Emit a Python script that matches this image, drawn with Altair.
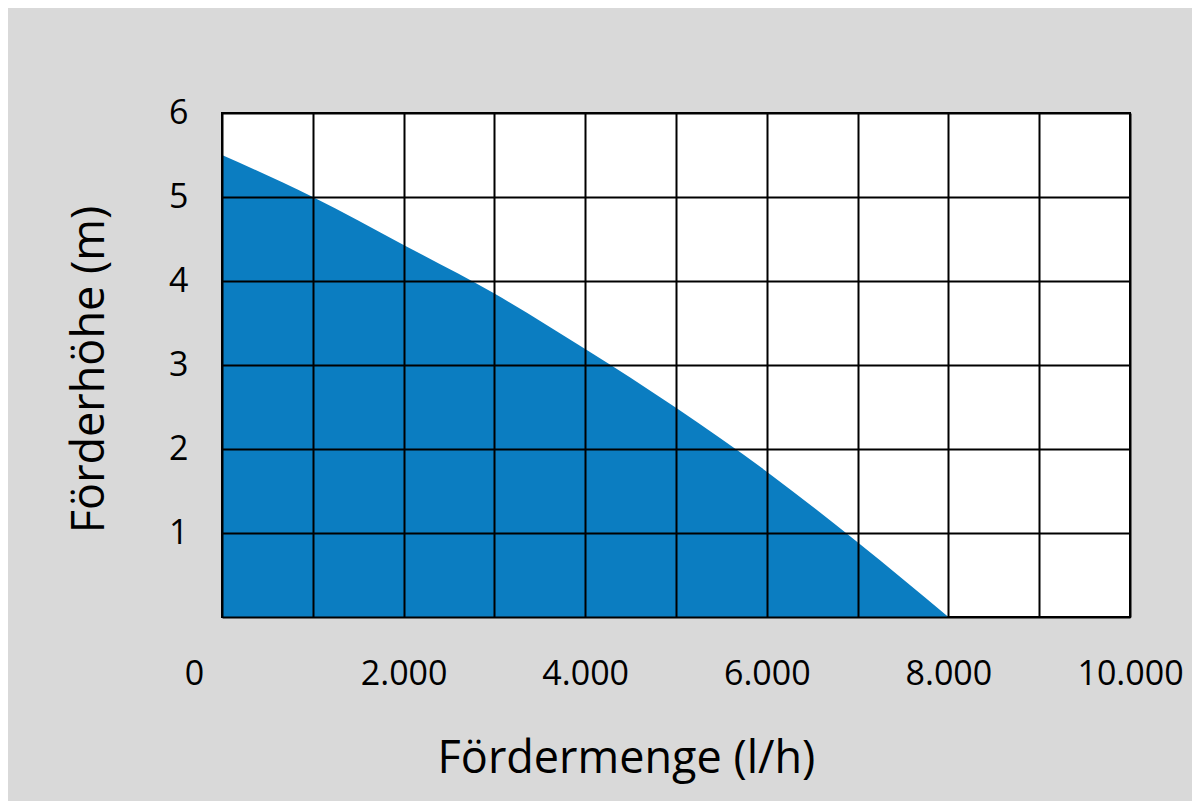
import altair as alt
import pandas as pd

# Pump curve: flow rate (l/h) vs delivery head (m)
flow = [0, 1000, 2000, 3000, 4000, 5000, 6000, 7000, 8000]
head = [5.5, 5.0, 4.43, 3.85, 3.19, 2.49, 1.73, 0.89, 0.0]

x_ticks = [0, 1000, 2000, 3000, 4000, 5000, 6000, 7000, 8000, 9000, 10000]
y_ticks = [0, 1, 2, 3, 4, 5, 6]

df = pd.DataFrame({"flow": flow, "head": head})

FONT = "Open Sans"

x_label_expr = (
    "datum.value % 2000 != 0 ? '' : "
    "replace(format(datum.value, ','), ',', '.')"
)

chart = (
    alt.Chart(df)
    .mark_area(color="#0b7dc1", interpolate="monotone")
    .encode(
        x=alt.X(
            "flow:Q",
            scale=alt.Scale(domain=[0, 10000], nice=False, zero=True),
            axis=alt.Axis(
                values=x_ticks,
                grid=True,
                gridColor="black",
                gridWidth=2,
                gridOpacity=1,
                ticks=False,
                domain=False,
                labelExpr=x_label_expr,
                labelFont=FONT,
                labelFontSize=34,
                labelColor="black",
                labelPadding=40,
                labelOffset={"condition": {"test": "datum.value == 0", "value": -28}, "value": 0},
                labelFlush=False,
                labelOverlap=False,
                title="Fördermenge (l/h)",
                titleFont=FONT,
                titleFontSize=45,
                titleFontWeight="normal",
                titleColor="black",
                titleX=404,
                titleY=155,
                titleAlign="center",
                titleBaseline="alphabetic",
                zindex=1,
            ),
        ),
        y=alt.Y(
            "head:Q",
            scale=alt.Scale(domain=[0, 6], nice=False, zero=True),
            axis=alt.Axis(
                values=y_ticks,
                grid=True,
                gridColor="black",
                gridWidth=2,
                gridOpacity=1,
                ticks=False,
                domain=False,
                labelExpr="datum.value == 0 ? '' : datum.label",
                labelFont=FONT,
                labelFontSize=34,
                labelColor="black",
                labelPadding=34,
                labelFlush=False,
                labelOverlap=False,
                title="Förderhöhe (m)",
                titleFont=FONT,
                titleFontSize=45,
                titleFontWeight="normal",
                titleColor="black",
                titleX=-119,
                titleY=256,
                titleAlign="center",
                titleBaseline="alphabetic",
                zindex=1,
            ),
        ),
    )
    .properties(
        width=908,
        height=504,
        background="#d9d9d9",
        autosize=alt.AutoSizeParams(type="none"),
        padding={"left": 214, "top": 105, "right": 62, "bottom": 184},
    )
    .configure_view(fill="white", stroke="black", strokeWidth=2)
)

chart.save("out.html", embed_options={"renderer": "svg", "actions": False})
